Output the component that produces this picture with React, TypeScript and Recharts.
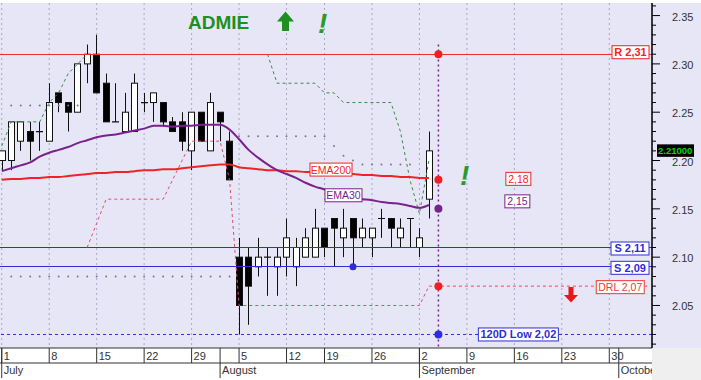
import React from "react";
import {
  ComposedChart,
  Bar,
  Line,
  XAxis,
  YAxis,
  CartesianGrid,
  ReferenceLine,
  ReferenceDot,
} from "recharts";

// trading days on the axis (Jul 1 – Oct 4, Aug 15 closed)
const monthNames = ["July", "August", "September", "October"];
const monthDays = [
  [1, 2, 3, 4, 5, 8, 9, 10, 11, 12, 15, 16, 17, 18, 19, 22, 23, 24, 25, 26, 29, 30, 31],
  [1, 2, 5, 6, 7, 8, 9, 12, 13, 14, 16, 19, 20, 21, 22, 23, 26, 27, 28, 29, 30],
  [2, 3, 4, 5, 6, 9, 10, 11, 12, 13, 16, 17, 18, 19, 20, 23, 24, 25, 26, 27, 30],
  [1, 2, 3, 4],
];
const year = 2019;

// daily OHLC, Jul 1 – Sep 3
const open = [2.20, 2.20, 2.22, 2.23, 2.23, 2.22, 2.27, 2.26, 2.25, 2.30, 2.31, 2.28, 2.24, 2.23, 2.23, 2.26, 2.26, 2.26, 2.24, 2.24, 2.21, 2.25, 2.21, 2.25, 2.22, 2.10, 2.10, 2.09, 2.10, 2.09, 2.10, 2.09, 2.10, 2.10, 2.13, 2.14, 2.12, 2.14, 2.12, 2.12, 2.14, 2.14, 2.12, 2.14, 2.11, 2.16];
const high = [2.21, 2.24, 2.24, 2.24, 2.24, 2.28, 2.27, 2.26, 2.30, 2.32, 2.33, 2.29, 2.28, 2.27, 2.29, 2.27, 2.27, 2.26, 2.245, 2.25, 2.25, 2.25, 2.27, 2.25, 2.23, 2.12, 2.11, 2.12, 2.11, 2.11, 2.14, 2.12, 2.13, 2.15, 2.13, 2.14, 2.15, 2.14, 2.14, 2.13, 2.15, 2.14, 2.14, 2.14, 2.13, 2.23];
const low = [2.19, 2.19, 2.21, 2.20, 2.21, 2.22, 2.25, 2.23, 2.25, 2.28, 2.27, 2.24, 2.24, 2.23, 2.23, 2.25, 2.24, 2.235, 2.23, 2.21, 2.19, 2.22, 2.21, 2.22, 2.18, 2.02, 2.03, 2.08, 2.06, 2.06, 2.08, 2.07, 2.10, 2.10, 2.10, 2.09, 2.10, 2.09, 2.11, 2.10, 2.12, 2.11, 2.11, 2.11, 2.10, 2.14];
const close = [2.21, 2.24, 2.24, 2.22, 2.23, 2.26, 2.26, 2.25, 2.30, 2.31, 2.27, 2.24, 2.24, 2.25, 2.28, 2.26, 2.27, 2.24, 2.23, 2.22, 2.25, 2.22, 2.26, 2.24, 2.18, 2.05, 2.07, 2.10, 2.10, 2.10, 2.12, 2.11, 2.12, 2.13, 2.11, 2.13, 2.13, 2.12, 2.13, 2.13, 2.14, 2.13, 2.13, 2.14, 2.12, 2.21];

const ema200 = [2.180, 2.181, 2.181, 2.182, 2.182, 2.183, 2.183, 2.184, 2.185, 2.186, 2.187, 2.187, 2.188, 2.188, 2.189, 2.190, 2.190, 2.191, 2.191, 2.192, 2.193, 2.194, 2.195, 2.196, 2.196, 2.193, 2.192, 2.191, 2.190, 2.190, 2.189, 2.189, 2.188, 2.188, 2.187, 2.187, 2.186, 2.186, 2.185, 2.185, 2.184, 2.184, 2.183, 2.183, 2.182, 2.182];
const ema30 = [2.189, 2.192, 2.195, 2.198, 2.204, 2.208, 2.211, 2.214, 2.218, 2.221, 2.224, 2.226, 2.227, 2.229, 2.231, 2.233, 2.236, 2.236, 2.235, 2.236, 2.236, 2.237, 2.237, 2.237, 2.232, 2.222, 2.211, 2.203, 2.196, 2.190, 2.186, 2.182, 2.177, 2.173, 2.170, 2.166, 2.163, 2.161, 2.160, 2.159, 2.157, 2.156, 2.155, 2.153, 2.151, 2.154];

// trailing stop lines
const stopRed = [null, null, null, null, null, null, null, null, null, 2.11, 2.135, 2.16, 2.16, 2.16, 2.16, 2.16, 2.16, 2.16, 2.18, 2.20, 2.22, 2.22, 2.22, 2.22, 2.18, 2.05, 2.05, 2.05, 2.05, 2.05, 2.05, 2.05, 2.05, 2.05, 2.05, 2.05, 2.05, 2.05, 2.05, 2.05, 2.05, 2.05, 2.05, 2.05, 2.05, 2.07];
const stopGreen = [2.215, 2.24, 2.24, 2.24, 2.24, 2.26, 2.27, 2.29, 2.30, 2.31, null, null, null, null, null, null, null, null, null, null, null, null, null, null, null, null, null, null, 2.31, 2.28, 2.28, 2.28, 2.28, 2.28, 2.27, 2.27, 2.26, 2.26, 2.26, 2.26, 2.26, 2.26, 2.23, 2.18, 2.145, 2.20];

// dotted levels
const dotsUpper = [null, 2.257, 2.257, 2.257, 2.257, 2.257, 2.257, 2.257, 2.257, null, null, null, null, null, null, null, null, null, null, null, null, null, null, null, null, 2.225, 2.225, 2.225, 2.225, 2.225, 2.225, 2.225, 2.225, 2.225, 2.225, 2.215, 2.205, 2.2, 2.196, 2.196, 2.196, 2.196, 2.196, 2.196, null, null];
const dotsLower = [null, 2.08, 2.08, 2.08, 2.08, 2.08, 2.08, 2.08, 2.08, 2.08, 2.08, 2.08, 2.08, 2.08, 2.08, 2.08, 2.08, 2.08, 2.08, 2.08, 2.08, 2.08, 2.08, 2.08, 2.08];

const resistance = 2.31;
const supports = [2.11, 2.09];
const drl = 2.07;
const low120 = 2.02;
const lastPrice = 2.21;
const markerDay = 46;
const supportTouchDay = 37;

const priceTicks = [2.01, 2.02, 2.03, 2.04, 2.05, 2.06, 2.07, 2.08, 2.09, 2.10, 2.11, 2.12, 2.13, 2.14, 2.15, 2.16, 2.17, 2.18, 2.19, 2.20, 2.21, 2.22, 2.23, 2.24, 2.25, 2.26, 2.27, 2.28, 2.29, 2.30, 2.31, 2.32, 2.33, 2.34, 2.35, 2.36];
const majorTicks = [2.05, 2.10, 2.15, 2.20, 2.25, 2.30, 2.35];

const rows: any[] = [];
monthDays.forEach((days, m) =>
  days.forEach((d, k) => {
    const i = rows.length;
    rows.push({
      i,
      day: d,
      month: monthNames[m],
      monday: new Date(year, 6 + m, d).getDay() === 1,
      monthStart: k === 0,
      o: open[i],
      h: high[i],
      l: low[i],
      c: close[i],
      range: i < open.length ? [low[i], high[i]] : undefined,
      ema200: ema200[i] ?? null,
      ema30: ema30[i] ?? null,
      stopRed: stopRed[i] ?? null,
      stopGreen: stopGreen[i] ?? null,
      dotsUpper: dotsUpper[i] ?? null,
      dotsLower: dotsLower[i] ?? null,
    });
  })
);
const mondayTicks = rows.filter((r) => r.monday).map((r) => r.i);
const monthTicks = rows.filter((r) => r.monthStart).map((r) => r.i);

const W = 701;
const H = 380;
const AXIS_W = 49;
const PLOT_RIGHT = W - AXIS_W;
const FONT = "'Liberation Sans', Arial, sans-serif";
const BG = "#E6E6F7";
const RED = "#EE2424";
const BLUE = "#2E2ED8";
const PURPLE = "#7A228C";
const GREEN = "#1F8F1F";

const fmt = (v: number) => v.toFixed(2).replace(".", ",");

const Candle = (props: any) => {
  const { x, y, width, height, payload } = props;
  if (!payload || payload.o == null) return null;
  const { o, h, l, c } = payload;
  const toY = (v: number) => y + ((h - v) / (h - l)) * height;
  const mid = Math.round(x + width / 2) + 0.5;
  const top = toY(Math.max(o, c));
  const bot = toY(Math.min(o, c));
  const up = c >= o;
  return (
    <g>
      <line x1={mid} x2={mid} y1={y} y2={y + height} stroke="#111" />
      {bot - top < 1 ? (
        <line x1={mid - 3.5} x2={mid + 3.5} y1={top} y2={top} stroke="#111" strokeWidth={1.2} />
      ) : (
        <rect x={mid - 3} y={top} width={6} height={bot - top} fill={up ? "#fff" : "#000"} stroke="#111" />
      )}
    </g>
  );
};

const PriceTick = (props: any) => {
  const { x, y, payload } = props;
  const v = payload.value;
  const major = majorTicks.some((m) => Math.abs(m - v) < 1e-6);
  return (
    <g>
      <line x1={x} x2={x + (major ? 8 : 4)} y1={y} y2={y} stroke="#000" />
      {major && (
        <text x={x + 20} y={y + 5} fontSize={11} fill="#333" fontFamily={FONT}>
          {v.toFixed(2)}
        </text>
      )}
      {Math.abs(v - lastPrice) < 1e-6 && (
        <g>
          <rect x={x + 5} y={y - 6.5} width={37} height={12.5} fill="#000" />
          <text x={x + 6} y={y + 3.5} fontSize={9.5} fontWeight="bold" fill="#10D010" fontFamily={FONT}>
            {lastPrice.toFixed(5)}
          </text>
        </g>
      )}
    </g>
  );
};

const DayTick = (props: any) => {
  const { x, y, payload } = props;
  const r = rows[payload.value];
  return (
    <g>
      <line x1={x} x2={x} y1={y} y2={y + 15} stroke="#333" />
      <text x={x + 2} y={y + 12} fontSize={11} fill="#333" fontFamily={FONT}>
        {r.day}
      </text>
    </g>
  );
};

const MonthTick = (props: any) => {
  const { x, y, payload } = props;
  const r = rows[payload.value];
  return (
    <g>
      <line x1={x} x2={x} y1={y - 15} y2={y + 15} stroke="#333" />
      <svg x={x} y={y} width={Math.max(0, PLOT_RIGHT - x)} height={15} overflow="hidden">
        <text x={2} y={11} fontSize={11} fill="#333" fontFamily={FONT}>
          {r.month}
        </text>
      </svg>
    </g>
  );
};

const Box = ({ cx, cy, w, text, color, bold, size = 11 }: any) => (
  <g>
    <rect x={cx - w / 2} y={cy - 6.5} width={w} height={13} fill="#fff" stroke={color} />
    <text
      x={cx}
      y={cy + 4}
      textAnchor="middle"
      fontSize={size}
      fontWeight={bold ? "bold" : "normal"}
      fill={color}
      fontFamily={FONT}
    >
      {text}
    </text>
  </g>
);

const edgeTag = (text: string, color: string, w: number, bold: boolean, dy: number, size = 11) => (p: any) => {
  const vb = p.viewBox;
  return <Box cx={vb.x + vb.width - 3 - w / 2} cy={vb.y + dy} w={w} text={text} color={color} bold={bold} size={size} />;
};

export default function App() {
  return (
    <div style={{ position: "absolute", left: 0, top: 0, width: W, height: H, background: "#fff", fontFamily: FONT }}>
      <div style={{ position: "absolute", left: 0, top: 3, width: W, height: 345, background: BG }} />
      <div style={{ position: "absolute", left: PLOT_RIGHT, top: 348, width: AXIS_W, height: 32, background: "#EFEFEF" }} />
      <div style={{ position: "absolute", left: 0, top: 0 }}>
        <ComposedChart width={W} height={H} data={rows} margin={{ top: 3, right: 0, bottom: 0, left: -3 }}>
          <CartesianGrid horizontal={false} stroke="#A8A8C4" strokeDasharray="2 3" />
          <XAxis
            dataKey="i"
            type="category"
            ticks={mondayTicks}
            interval={0}
            tick={<DayTick />}
            tickLine={false}
            tickSize={0}
            tickMargin={0}
            axisLine={{ stroke: "#333" }}
            height={15}
          />
          <XAxis
            xAxisId="m"
            dataKey="i"
            type="category"
            ticks={monthTicks}
            interval={0}
            tick={<MonthTick />}
            tickLine={false}
            tickSize={0}
            tickMargin={0}
            axisLine={{ stroke: "#333" }}
            height={17}
          />
          <YAxis
            orientation="right"
            type="number"
            domain={[2.006, 2.363]}
            allowDataOverflow
            ticks={priceTicks}
            interval={0}
            tick={<PriceTick />}
            tickLine={false}
            tickSize={0}
            tickMargin={0}
            axisLine={{ stroke: "#000", strokeWidth: 1.5 }}
            width={AXIS_W}
          />

          <ReferenceLine y={resistance} stroke="#F03030" shapeRendering="crispEdges" label={edgeTag("R " + fmt(resistance), RED, 37, true, -2)} />
          <ReferenceLine y={supports[0]} stroke={BLUE} strokeWidth={1.3} shapeRendering="crispEdges" label={edgeTag("S " + fmt(supports[0]), BLUE, 38, true, 1)} />
          <ReferenceLine y={supports[1]} stroke={BLUE} strokeWidth={1.3} shapeRendering="crispEdges" label={edgeTag("S " + fmt(supports[1]), BLUE, 38, true, 1)} />
          <ReferenceLine y={low120} stroke={BLUE} strokeDasharray="3 3" />
          <ReferenceLine
            segment={[{ x: 45, y: drl }, { x: rows.length - 1, y: drl }]}
            stroke="#F04848"
            strokeDasharray="3 3"
            label={edgeTag("DRL " + fmt(drl), "#F03838", 48, false, 1, 10.5)}
          />
          <ReferenceLine
            segment={[{ x: markerDay, y: 2.32 }, { x: markerDay, y: 2.006 }]}
            stroke={PURPLE}
            strokeWidth={1.5}
            strokeDasharray="2 3"
          />

          <Line dataKey="dotsUpper" stroke="none" dot={{ r: 1, fill: "#777790", stroke: "none" }} isAnimationActive={false} />
          <Line dataKey="dotsLower" stroke="none" dot={{ r: 1, fill: "#777790", stroke: "none" }} isAnimationActive={false} />
          <Line dataKey="stopRed" type="linear" stroke="#E2486E" strokeDasharray="3 3" dot={false} isAnimationActive={false} />
          <Line dataKey="stopGreen" type="linear" stroke="#3A8A48" strokeDasharray="3 3" dot={false} isAnimationActive={false} />

          <Bar dataKey="range" barSize={7} shape={<Candle />} isAnimationActive={false} />

          <Line dataKey="ema200" type="monotone" stroke={RED} strokeWidth={2} dot={false} isAnimationActive={false} />
          <Line dataKey="ema30" type="monotone" stroke={PURPLE} strokeWidth={2} dot={false} isAnimationActive={false} />

          <ReferenceDot x={35} y={ema200[35]} r={0} shape={(p: any) => <Box cx={p.cx - 3} cy={p.cy - 3.5} w={42} text="EMA200" color={RED} size={10.5} />} />
          <ReferenceDot x={36} y={ema30[36]} r={0} shape={(p: any) => <Box cx={p.cx} cy={p.cy - 1} w={37} text="EMA30" color={PURPLE} size={10.5} />} />
          <ReferenceDot x={54} y={2.18} r={0} shape={(p: any) => <Box cx={p.cx + 4} cy={p.cy - 1} w={25} text={fmt(2.18)} color={RED} size={10.5} />} />
          <ReferenceDot x={54} y={2.15} r={0} shape={(p: any) => <Box cx={p.cx + 3} cy={p.cy - 7.5} w={25} text={fmt(2.15)} color={PURPLE} size={10.5} />} />
          <ReferenceDot x={54} y={low120} r={0} shape={(p: any) => <Box cx={p.cx + 4} cy={p.cy} w={80} text={"120D Low " + fmt(low120)} color={BLUE} bold />} />

          <ReferenceDot x={markerDay} y={resistance} r={4} fill="#F02020" stroke="none" />
          <ReferenceDot x={markerDay} y={2.18} r={4} fill="#F02020" stroke="none" />
          <ReferenceDot x={markerDay} y={2.15} r={4} fill={PURPLE} stroke="none" />
          <ReferenceDot x={markerDay} y={drl} r={4} fill="#F02020" stroke="none" />
          <ReferenceDot x={markerDay} y={low120} r={4} fill={BLUE} stroke="none" />
          <ReferenceDot x={supportTouchDay} y={supports[1]} r={3.5} fill={BLUE} stroke="none" />
        </ComposedChart>
      </div>
      <svg style={{ position: "absolute", left: 0, top: 0, pointerEvents: "none" }} width={W} height={H}>
        <text x={188} y={29} fontSize={19} fontWeight="bold" fill={GREEN} fontFamily={FONT}>
          ADMIE
        </text>
        <path d="M277 21.5 L285.5 11.5 L294 21.5 L289 21.5 L289 31 L282 31 L282 21.5 Z" fill={GREEN} />
        <text x={318} y={33} fontSize={28} fontWeight="bold" fontStyle="italic" fill="#2A9A2A" fontFamily={FONT}>
          !
        </text>
        <text x={460} y={185} fontSize={28} fontWeight="bold" fontStyle="italic" fill="#2A9A2A" fontFamily={FONT}>
          !
        </text>
        <path d="M568.5 287 L573.5 287 L573.5 295 L578 295 L571 302.5 L564 295 L568.5 295 Z" fill="#E81818" />
      </svg>
    </div>
  );
}
